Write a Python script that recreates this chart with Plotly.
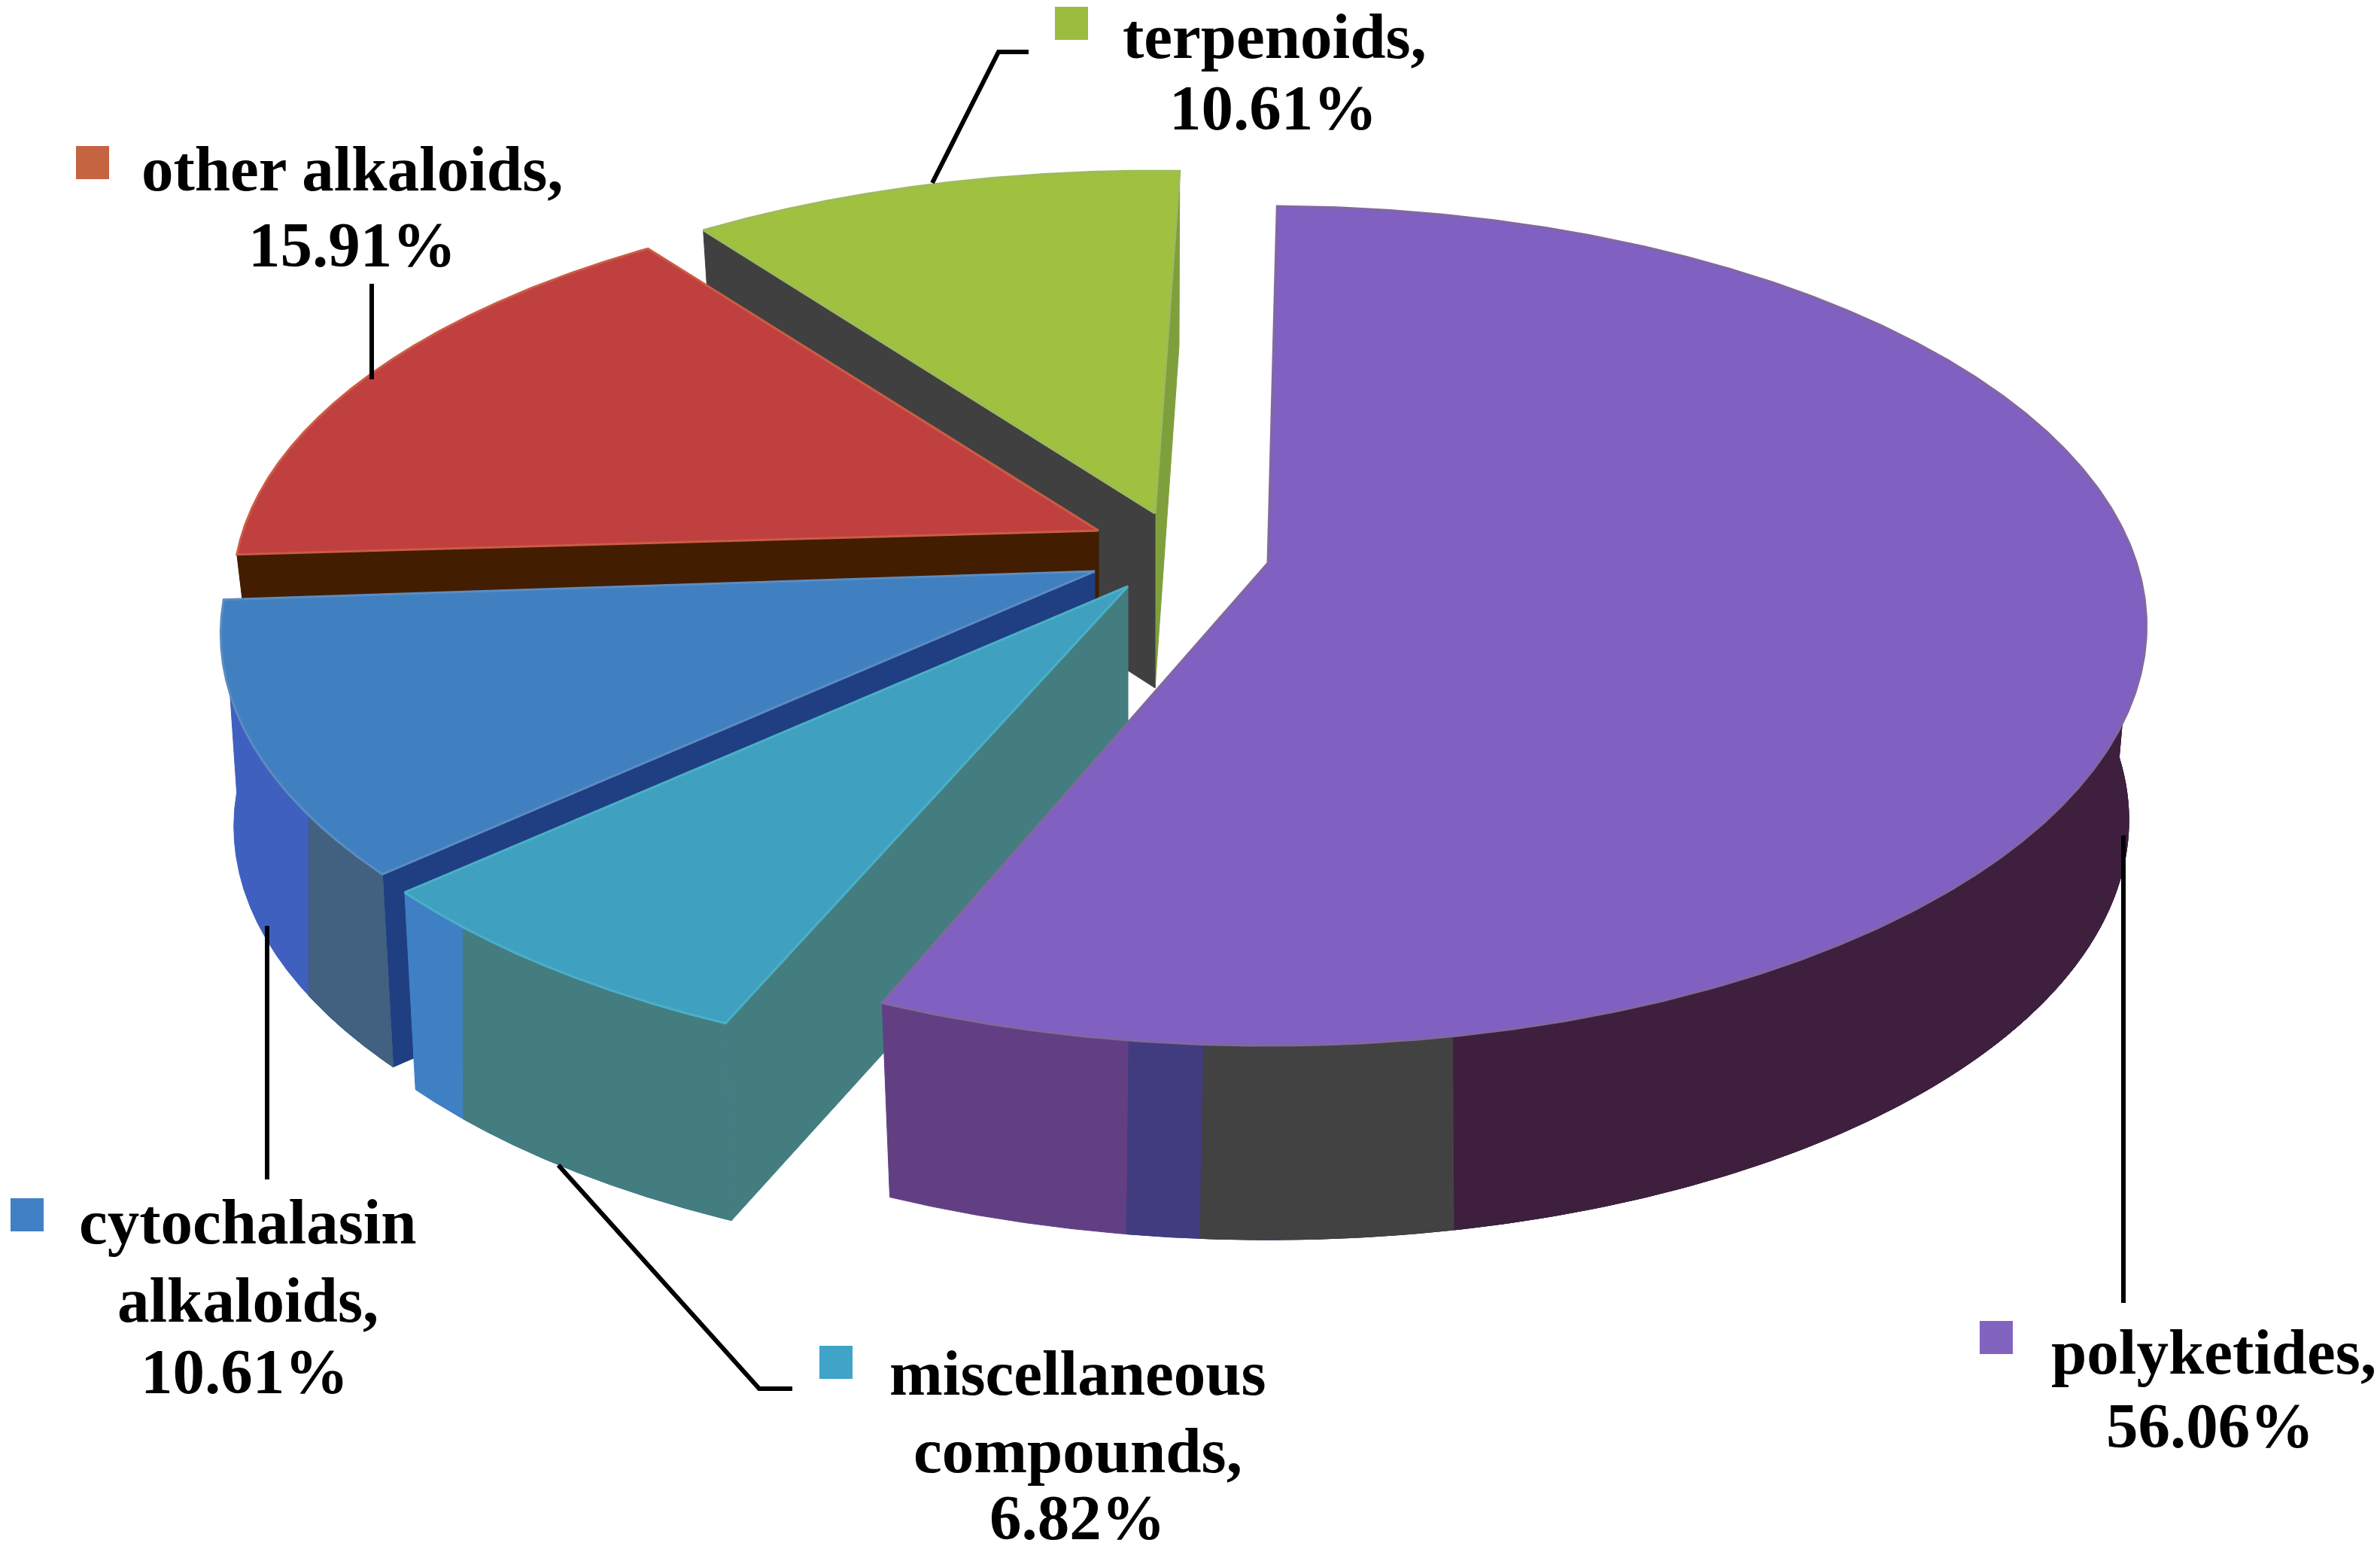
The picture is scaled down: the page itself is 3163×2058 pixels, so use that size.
import numpy as np
import plotly.graph_objects as go

# ---- data ----
categories = ["polyketides", "miscellaneous compounds", "cytochalasin alkaloids", "other alkaloids", "terpenoids"]
shares = [56.06, 6.82, 10.61, 15.91, 10.61]
label_lines = [["polyketides,"], ["miscellaneous", "compounds,"], ["cytochalasin", "alkaloids,"], ["other alkaloids,"], ["terpenoids,"]]

# ---- styles ----
top_colors = ["#8060C0", "#40A0C0", "#4080C0", "#C04040", "#A0C040"]
edge_colors = ["#82689F", "#4AB0C8", "#5C8CC0", "#CC5C44", "#9DBB5C"]
key_colors = ["#8064C0", "#40A4C8", "#4080C4", "#C46440", "#9CBC40"]
face_colors = [None, "#447D80", "#1F3F82", "#421D00", "#404040"]
wall_bands = [
    [(0, "#623F82"), (1495, "#413C80"), (1594, "#424242"), (1930, "#3E1F3E")],
    [(0, "#3F80C4"), (615, "#447D80")],
    [(0, "#4060C0"), (410, "#42607F")],
    [],
    [],
]
apex = [(1685, 748), (1499, 779), (1455, 759), (1460, 705), (1535, 682)]
radius_x = [0.99, 1.0, 0.985, 0.975, 0.975]
radius_y = [1.0, 1.0, 0.99, 0.955, 0.96]
turn = [0.7, 1.5, 1.5, 2.0, 1.9]
shrink = [0.98, 0.985, 0.985, 0.975, 0.975]
depth = [258, 262, 256, 240, 232]
key_xy = [(2653, 1777), (1111, 1810), (36, 1614), (123, 216), (1424, 31)]
label_xy = [
    [(2942, 1796), (2937, 1894)],
    [(1432, 1824), (1432, 1927), (1432, 2016)],
    [(329, 1623), (329, 1727), (325, 1822)],
    [(468, 224), (468, 325)],
    [(1694, 48), (1692, 143)],
]
leaders = [
    [(2822, 1110), (2822, 1731)],
    [(742, 1548), (1009, 1845), (1053, 1845)],
    [(355, 1230), (355, 1567)],
    [(494, 377), (494, 504)],
    [(1367, 69), (1327, 69), (1239, 243)],
]
RX, RY, K = 1166.0, 545.0, 0.15
FONT = dict(family="Liberation Serif", size=85, color="#000000")

fractions = np.array(shares) / sum(shares)
edges = np.concatenate([[0], np.cumsum(fractions)]) * 360


def project(i, deg):
    t = np.radians(deg)
    d = 1 + K * np.cos(t)
    ax, ay = apex[i]
    return ax + radius_x[i] * RX * np.sin(t) / d, ay - radius_y[i] * RY * np.cos(t) / d


def drop(i, x, y):
    return apex[i][0] + (np.asarray(x) - apex[i][0]) * shrink[i], np.asarray(y) + depth[i]


fig = go.Figure()


def poly(x, y, fill, line=None, lw=1):
    xs, ys = list(x), list(y)
    fig.add_trace(go.Scatter(x=xs + xs[:1], y=ys + ys[:1], mode="lines", fill="toself", fillcolor=fill,
                             line=dict(color=line or fill, width=lw), hoverinfo="skip", showlegend=False))


def side_face(i, deg, color):
    cx, cy = project(i, deg)
    dx, dy = drop(i, cx, cy)
    ax, ay = apex[i]
    poly([ax, cx, float(dx), ax], [ay, cy, float(dy), ay + depth[i]], color)


for i in [4, 3, 2, 1, 0]:
    a0, a1 = edges[i] + turn[i], edges[i + 1] + turn[i]
    if i == 4:
        side_face(4, a1, "#7F9F3C")
    if face_colors[i]:
        side_face(i, a0, face_colors[i])
    # outer wall, split into the colour bands seen on the rim (painted left to right so no seam shows)
    wall_start = max(a0, 90.0) if i == 0 else a0
    th = np.linspace(wall_start, a1, 400)
    tx, ty = project(i, th)
    bx, by = drop(i, tx, ty)
    for xmin, col in wall_bands[i]:
        m_top = tx >= xmin
        m_bot = bx >= xmin
        if m_top.any() and m_bot.any():
            poly(list(tx[m_top]) + list(bx[m_bot][::-1]), list(ty[m_top]) + list(by[m_bot][::-1]), col)
    # top surface
    th = np.linspace(a0, a1, 400)
    tx, ty = project(i, th)
    ax, ay = apex[i]
    poly([ax] + list(tx), [ay] + list(ty), top_colors[i], edge_colors[i], 3)

for pts in leaders:
    fig.add_trace(go.Scatter(x=[p[0] for p in pts], y=[p[1] for p in pts], mode="lines",
                             line=dict(color="#000000", width=6), hoverinfo="skip", showlegend=False))

for i, cat in enumerate(categories):
    fig.add_trace(go.Scatter(x=[key_xy[i][0]], y=[key_xy[i][1]], mode="markers", name=cat,
                             marker=dict(symbol="square", size=44, color=key_colors[i]),
                             hoverinfo="skip", showlegend=False))
    lines = label_lines[i] + [f"{shares[i]:.2f}%"]
    for text, (x, y) in zip(lines, label_xy[i]):
        fig.add_annotation(x=x, y=y, text=f"<b>{text}</b>", showarrow=False, font=FONT,
                           xanchor="center", yanchor="middle")

fig.update_layout(width=3163, height=2058, margin=dict(l=0, r=0, t=0, b=0), paper_bgcolor="white",
                  plot_bgcolor="white", showlegend=False,
                  xaxis=dict(range=[0, 3163], visible=False, fixedrange=True),
                  yaxis=dict(range=[2058, 0], visible=False, fixedrange=True))
fig.write_html("out.html", config=dict(displayModeBar=False),
               post_script="document.body.style.margin='0';document.body.style.overflow='hidden';")
